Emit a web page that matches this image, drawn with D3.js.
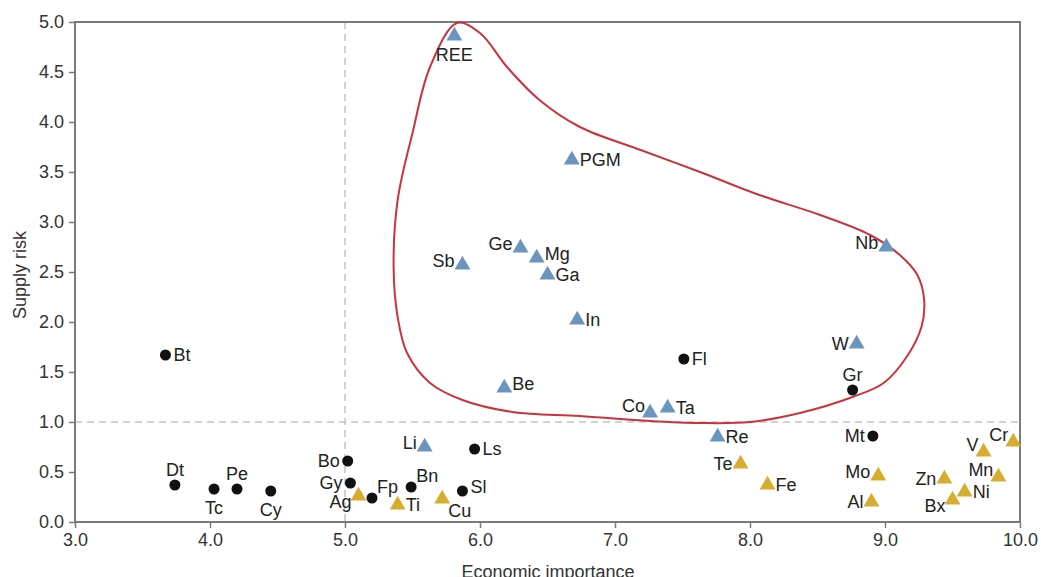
<!doctype html>
<html>
<head>
    <meta charset="utf-8">
    <title> supply risk vs economic importance </title>
    <script src="https://d3js.org/d3.v7.min.js"></script>
    <style>
        body { margin: 0; background: #fff; }
        text { font-family: "Liberation Sans", Arial, sans-serif; }
    </style>
</head>
<body>
<script>
    // ---- data ----
    // black circles
    var circleNames = ["Bt","Dt","Tc","Pe","Cy","Bo","Gy","Fp","Bn","Sl","Ls","Fl","Gr","Mt"];
    var circleX     = [3.67,3.74,4.03,4.20,4.45,5.02,5.04,5.20,5.49,5.87,5.96,7.51,8.76,8.91];
    var circleY     = [1.67,0.37,0.33,0.33,0.31,0.61,0.39,0.24,0.35,0.31,0.73,1.63,1.32,0.86];

    // blue triangles (critical)
    var blueNames = ["REE","PGM","Ge","Mg","Sb","Ga","Nb","In","W","Be","Co","Ta","Li","Re"];
    var blueX     = [5.81,6.68,6.30,6.42,5.87,6.50,9.01,6.72,8.79,6.18,7.26,7.39,5.59,7.76];
    var blueY     = [4.86,3.62,2.74,2.64,2.57,2.47,2.75,2.02,1.78,1.34,1.09,1.14,0.75,0.85];

    // yellow triangles
    var yellowNames = ["Ag","Ti","Cu","Te","Fe","Mo","Al","Zn","Bx","Ni","Mn","V","Cr"];
    var yellowX     = [5.10,5.39,5.72,7.93,8.13,8.95,8.90,9.44,9.50,9.59,9.84,9.73,9.95];
    var yellowY     = [0.26,0.17,0.23,0.58,0.37,0.46,0.20,0.43,0.22,0.30,0.45,0.70,0.80];

    // which side of the marker each label sits on
    var labelSide = {
        Bt:"r", Dt:"a", Tc:"b", Pe:"a", Cy:"b", Bo:"l", Gy:"l", Fp:"ar", Bn:"ar", Sl:"ru",
        Ls:"r", Fl:"r", Gr:"a", Mt:"l", REE:"b", PGM:"r", Ge:"lu", Mg:"ru", Sb:"lu", Ga:"r",
        Nb:"lu", In:"r", W:"l", Be:"ru", Co:"al", Ta:"r", Li:"lu", Re:"r", Ag:"bl", Ti:"r",
        Cu:"br", Te:"l", Fe:"r", Mo:"lu", Al:"l", Zn:"l", Bx:"bl", Ni:"r", Mn:"al", V:"al", Cr:"al"
    };

    // red outline around the critical group
    var outlineX = [5.83,6.00,6.20,6.44,6.74,7.19,7.63,8.07,8.52,8.89,9.11,9.24,9.29,9.27,9.16,
                    8.99,8.76,8.37,8.00,7.63,7.26,6.74,6.24,5.87,5.63,5.46,5.39,5.36,5.39,5.50,5.63];
    var outlineY = [4.99,4.89,4.55,4.22,3.95,3.72,3.50,3.27,3.07,2.87,2.67,2.47,2.22,1.95,1.65,
                    1.39,1.25,1.09,1.00,0.99,1.01,1.06,1.10,1.22,1.39,1.69,2.05,2.55,3.22,3.89,4.55];

    var xTicks = [3,4,5,6,7,8,9,10];
    var yTicks = [0,0.5,1,1.5,2,2.5,3,3.5,4,4.5,5];

    // ---- layout ----
    var W = 1041, H = 577;
    var plotLeft = 75, plotRight = 1020, plotTop = 22, plotBottom = 522;
    var fontSize = "18px";

    var svg = d3.select("body").append("svg")
        .attr("width", W)
        .attr("height", H);

    var x = d3.scaleLinear().domain([3, 10]).range([plotLeft, plotRight]);
    var y = d3.scaleLinear().domain([0, 5]).range([plotBottom, plotTop]);

    var axisColor = "#7a7a7a";

    // dashed reference lines
    svg.append("line")
        .attr("x1", x(5)).attr("x2", x(5))
        .attr("y1", y(5)).attr("y2", y(0))
        .style("stroke", "#c4c4c4").style("stroke-width", 1.5)
        .style("stroke-dasharray", "7,5");
    svg.append("line")
        .attr("x1", x(3)).attr("x2", x(10))
        .attr("y1", y(1)).attr("y2", y(1))
        .style("stroke", "#c4c4c4").style("stroke-width", 1.5)
        .style("stroke-dasharray", "7,5");

    // axes
    var xAxis = d3.axisBottom(x).tickValues(xTicks).tickFormat(d3.format(".1f"))
        .tickSizeInner(6).tickSizeOuter(0).tickPadding(5);
    var yAxis = d3.axisLeft(y).tickValues(yTicks).tickFormat(d3.format(".1f"))
        .tickSizeInner(6).tickSizeOuter(0).tickPadding(5);

    var gx = svg.append("g").attr("transform", "translate(0," + plotBottom + ")").call(xAxis);
    var gy = svg.append("g").attr("transform", "translate(" + plotLeft + ",0)").call(yAxis);

    [gx, gy].forEach(function(g){
        g.select(".domain").remove();
        g.selectAll(".tick line").style("stroke", axisColor).style("stroke-width", 1.5);
        g.selectAll(".tick text")
            .style("fill", "#333")
            .style("font-size", fontSize)
            .style("font-family", "'Liberation Sans', Arial, sans-serif");
    });

    // frame
    svg.append("rect")
        .attr("x", plotLeft).attr("y", plotTop)
        .attr("width", plotRight - plotLeft).attr("height", plotBottom - plotTop)
        .style("fill", "none")
        .style("stroke", axisColor)
        .style("stroke-width", 2);

    // outline
    var outlinePts = outlineX.map(function(v, i){ return [x(v), y(outlineY[i])]; });
    svg.append("path")
        .attr("d", d3.line().curve(d3.curveCatmullRomClosed.alpha(0.5))(outlinePts))
        .style("fill", "none")
        .style("stroke", "#c9343c")
        .style("stroke-width", 2);

    // build point list
    var points = [];
    circleNames.forEach(function(n, i){ points.push({name:n, x:circleX[i], y:circleY[i], kind:"c"}); });
    blueNames.forEach(function(n, i){ points.push({name:n, x:blueX[i], y:blueY[i], kind:"b"}); });
    yellowNames.forEach(function(n, i){ points.push({name:n, x:yellowX[i], y:yellowY[i], kind:"y"}); });

    var tri = d3.symbol().type(d3.symbolTriangle).size(110);

    svg.selectAll("circle.pt")
        .data(points.filter(function(d){ return d.kind == "c"; }))
        .enter()
        .append("circle")
        .attr("class", "pt")
        .attr("cx", function(d){ return x(d.x); })
        .attr("cy", function(d){ return y(d.y); })
        .attr("r", 5.5)
        .style("fill", "#111");

    svg.selectAll("path.tri")
        .data(points.filter(function(d){ return d.kind != "c"; }))
        .enter()
        .append("path")
        .attr("class", "tri")
        .attr("d", tri)
        .attr("transform", function(d){ return "translate(" + x(d.x) + "," + y(d.y) + ")"; })
        .style("fill", function(d){ return d.kind == "b" ? "#6b95bf" : "#d6ad2e"; });

    // labels
    var offsets = {
        r:  {dx: 8,  dy: 6,   anchor: "start"},
        ru: {dx: 8,  dy: 2,   anchor: "start"},
        l:  {dx: -8, dy: 6,   anchor: "end"},
        lu: {dx: -8, dy: 2,   anchor: "end"},
        a:  {dx: 0,  dy: -9,  anchor: "middle"},
        b:  {dx: 0,  dy: 25,  anchor: "middle"},
        ar: {dx: 5,  dy: -5,  anchor: "start"},
        br: {dx: 6,  dy: 18,  anchor: "start"},
        bl: {dx: -7, dy: 12,  anchor: "end"},
        al: {dx: -5, dy: -1,  anchor: "end"}
    };

    svg.selectAll("text.lbl")
        .data(points)
        .enter()
        .append("text")
        .attr("class", "lbl")
        .attr("x", function(d){ return x(d.x) + offsets[labelSide[d.name]].dx; })
        .attr("y", function(d){ return y(d.y) + offsets[labelSide[d.name]].dy; })
        .attr("text-anchor", function(d){ return offsets[labelSide[d.name]].anchor; })
        .text(function(d){ return d.name; })
        .style("font-size", fontSize)
        .style("fill", "#222");

    // axis titles
    svg.append("text")
        .attr("x", 548)
        .attr("y", 578)
        .attr("text-anchor", "middle")
        .text("Economic importance")
        .style("font-size", fontSize)
        .style("fill", "#333");

    svg.append("text")
        .attr("transform", "translate(26," + 275 + ") rotate(-90)")
        .attr("text-anchor", "middle")
        .text("Supply risk")
        .style("font-size", fontSize)
        .style("fill", "#333");
</script>
</body>
</html>
